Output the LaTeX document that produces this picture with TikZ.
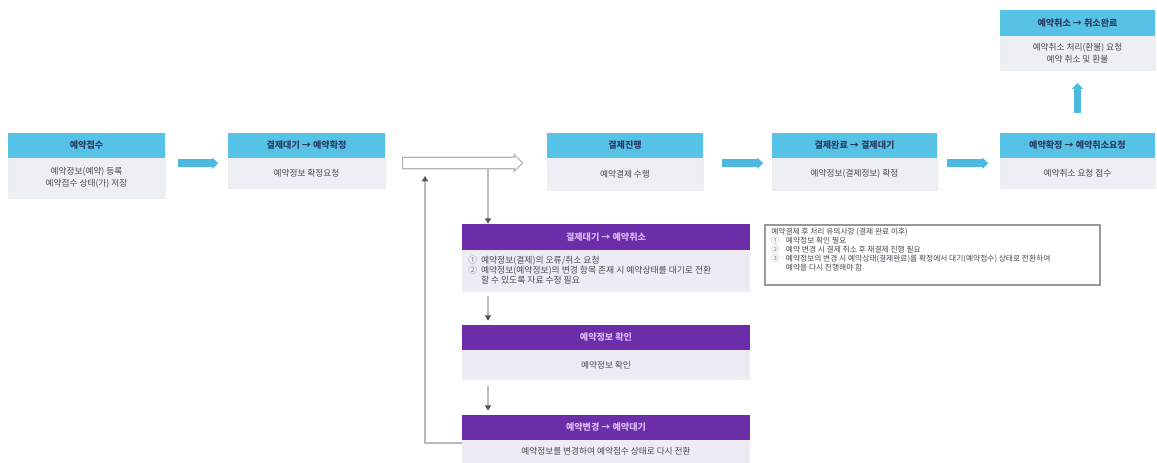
\documentclass[tikz,border=0pt]{standalone}
\usepackage{fontspec}
\setmainfont{Noto Sans CJK KR}
\usetikzlibrary{arrows.meta,fit,shapes.arrows}
\definecolor{cyanhead}{HTML}{56C3E6}
\definecolor{cyanbody}{HTML}{ECEFF3}
\definecolor{cyanarrowc}{HTML}{4DB9E0}
\definecolor{navytext}{HTML}{2C3E66}
\definecolor{purplehead}{HTML}{6C2DA9}
\definecolor{purplebody}{HTML}{EFEBF4}
\definecolor{lilactext}{HTML}{D8B9F2}
\definecolor{bodytext}{HTML}{4A4A55}
\definecolor{linegray}{HTML}{B8B8BE}
\definecolor{outlinegray}{HTML}{B5B2C0}
\definecolor{tipgray}{HTML}{55555C}
\newcommand\headfont{\fontsize{6.8}{8}\selectfont\bfseries}
\newcommand\bodyfont{\fontsize{6.5}{9}\selectfont}
\newcommand\notefont{\fontsize{5.8}{6.8}\selectfont}
\tikzset{
  bhead/.style={inner sep=0pt, fill=cyanhead,
    label={[text=navytext, font=\headfont, inner sep=0pt]center:#1}},
  bbody/.style={inner sep=0pt, fill=cyanbody, draw=white!85!gray,
    label={[text=bodytext, font=\bodyfont, align=center, inner sep=0pt]center:#1}},
  phead/.style={inner sep=0pt, fill=purplehead,
    label={[text=lilactext, font=\headfont, inner sep=0pt]center:#1}},
  pbody/.style={inner sep=0pt, fill=purplebody},
  ptext/.style={text=bodytext, font=\bodyfont, align=center, inner sep=0pt},
  flowarrow/.style={cyanarrowc, line width=5.8pt, -{Triangle[length=4.5pt,width=8.5pt]}},
  conn/.style={linegray, line width=1.1pt, -{Triangle[length=4pt,width=4.5pt,color=tipgray]}},
  hollowarrow/.style={single arrow, draw=outlinegray, line width=0.9pt, fill=white,
    minimum height=90pt, minimum width=12.5pt, single arrow head extend=1.8pt, inner sep=3.6pt}
}
\begin{document}
\begin{tikzpicture}[x=0.75pt,y=-0.75pt]
\useasboundingbox (0,0) rectangle (1157,463);
\fill[white] (0,0) rectangle (1157,463);

% main row of steps
\node[bhead={예약접수}, fit={(8,133) (165,158)}] (h1) {};
\node[bbody={예약정보(예약) 등록\\예약접수 상태(가) 저장}, fit={(8,158) (165,198)}] (b1) {};

\node[bhead={결제대기 → 예약확정}, fit={(228,133) (385,158)}] (h2) {};
\node[bbody={예약정보 확정요청}, fit={(228,158) (385,188)}] (b2) {};

\node[hollowarrow, anchor=west] (hollow) at (402,163) {};

\node[bhead={결제진행}, fit={(547,133) (703,158)}] (h3) {};
\node[bbody={예약결제 수행}, fit={(547,158) (703,190)}] (b3) {};

\node[bhead={결제완료 → 결제대기}, fit={(772,133) (937,158)}] (h4) {};
\node[bbody={예약정보(결제정보) 확정}, fit={(772,158) (937,190)}] (b4) {};

\node[bhead={예약확정 → 예약취소요청}, fit={(1000,133) (1155,158)}] (h5) {};
\node[bbody={예약취소 요청 접수}, fit={(1000,158) (1155,188)}] (b5) {};

\node[bhead={예약취소 → 취소완료}, fit={(1000,10) (1155,36)}] (h6) {};
\node[bbody={예약취소 처리(환불) 요청\\예약 취소 및 환불}, fit={(1000,36) (1155,70)}] (b6) {};

% block arrows between steps
\draw[flowarrow] (h1.south east) ++(13,5) -- ++(40,0);
\draw[flowarrow] (h3.south east) ++(19,5) -- ++(41,0);
\draw[flowarrow] (h4.south east) ++(10,5) -- ++(41,0);
\draw[flowarrow] (h5.north) ++(0,-20) -- (b6.south |- 0,83);

% exception branch
\node[phead={결제대기 → 예약취소}, fit={(462,224) (750,250)}] (p1h) {};
\node[pbody, fit={(462,250) (750,292)}] (p1b) {};
\node[ptext, align=left, anchor=west, font=\fontsize{6.6}{7.5}\selectfont] (p1t) at (468,270)
  {{\color{gray}①}\ \ 예약정보(결제)의 오류/취소 요청\\
   {\color{gray}②}\ \ 예약정보(예약정보)의 변경 항목 존재 시 예약상태를 대기로 전환\\
   \phantom{②}\ \ 할 수 있도록 자료 수정 필요};

\node[phead={예약정보 확인}, fit={(462,325) (750,350)}] (p2h) {};
\node[pbody, fit={(462,350) (750,380)}] (p2b) {};
\node[ptext] (p2t) at (p2b.center) {예약정보 확인};

\node[phead={예약변경 → 예약대기}, fit={(462,415) (750,440)}] (p3h) {};
\node[pbody, fit={(462,440) (750,463)}] (p3b) {};
\node[ptext] (p3t) at (p3b.center) {예약정보를 변경하여 예약접수 상태로 다시 전환};

\coordinate (col) at (488,0);
\coordinate (ret) at (425,176);
\draw[conn] (hollow.south -| col) -- (col |- p1h.north);
\draw[conn] (p1b.south -| col) ++(0,4) -- ([yshift=3pt]col |- p2h.north);
\draw[conn] (p2b.south -| col) ++(0,6) -- ([yshift=3pt]col |- p3h.north);
\draw[conn] ([yshift=-2pt]p3h.south west) -| (ret);

% note box
\node[draw=gray!80, line width=0.8pt, inner sep=0pt, fit={(765,225) (1100,285)}] (note) {};
\node[font=\notefont, text=bodytext, align=left, anchor=north west, inner sep=0pt] (notet) at (771,228)
  {예약결제 후 처리 유의사항 (결제 완료 이후)\\
   {\color{gray}①}\ \ \ \ 예약정보 확인 필요\\
   {\color{gray}②}\ \ \ \ 예약 변경 시 결제 취소 후 재결제 진행 필요\\
   {\color{gray}③}\ \ \ \ 예약정보의 변경 시 예약상태(결제완료)를 확정에서 대기(예약접수) 상태로 전환하여\\
   \phantom{③}\ \ \ \ 예약을 다시 진행해야 함};
\end{tikzpicture}
\end{document}
